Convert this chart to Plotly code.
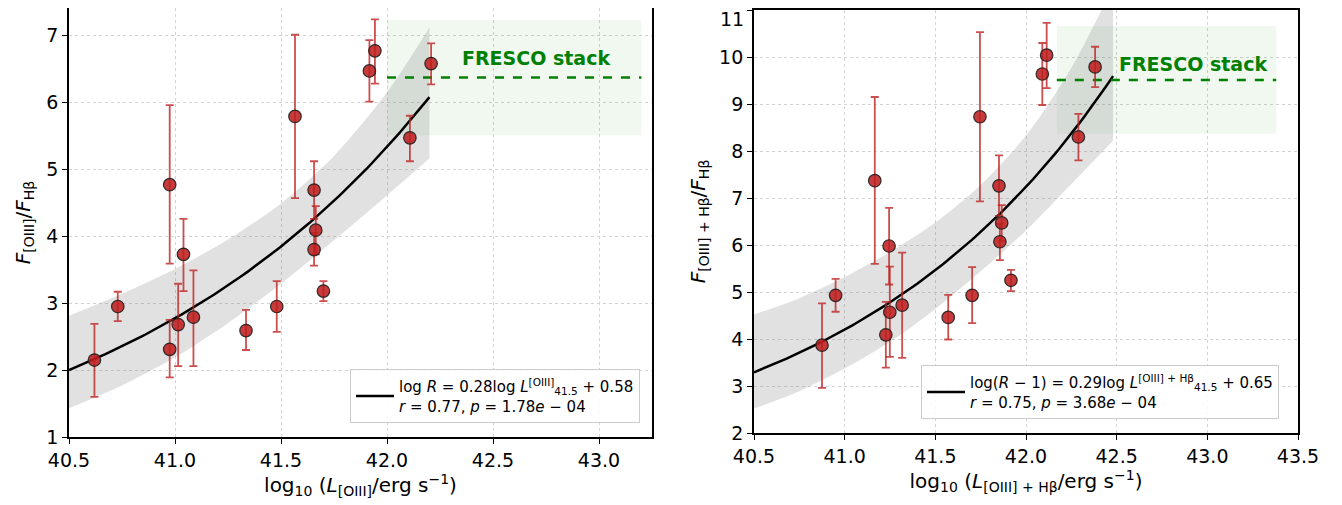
import plotly.graph_objects as go
import numpy as np

# page body has an 8px margin, so the figure is sized to the visible area
OFF = 8
W, H = 1342 - OFF, 505 - OFF
FONT = "DejaVu Sans"


def fx_(px):
    return (px - OFF) / W


def fy_(py):
    return min(1.0, 1 - (py - OFF) / H)


# ---------------- Left panel data: [OIII]/Hbeta vs log L[OIII]
left_x = [40.62, 40.73, 40.975, 40.975, 41.015, 41.04, 41.087, 41.335, 41.48,
          41.566, 41.656, 41.664, 41.656, 41.70, 41.917, 41.943, 42.108, 42.208]
left_y = [2.15, 2.95, 4.77, 2.31, 2.68, 3.73, 2.79, 2.59, 2.95,
          5.79, 4.69, 4.09, 3.80, 3.18, 6.47, 6.77, 5.47, 6.58]
left_hi = [2.69, 3.17, 5.96, 2.75, 3.29, 4.26, 3.49, 2.90, 3.33,
           7.01, 5.12, 4.45, 4.05, 3.33, 6.93, 7.24, 5.80, 6.88]
left_lo = [1.60, 2.73, 3.59, 1.89, 2.06, 3.18, 2.06, 2.30, 2.57,
           4.57, 4.26, 3.73, 3.56, 3.03, 6.01, 6.28, 5.12, 6.27]

left_fit_slope, left_fit_icpt = 0.284, 0.585
left_fit_range = [40.5, 42.2]
left_band_x = [40.5, 40.75, 41.0, 41.25, 41.5, 41.75, 42.0, 42.2]
left_band_hi = [2.81, 3.14, 3.51, 3.95, 4.49, 5.20, 6.15, 7.12]
left_band_lo = [1.43, 1.77, 2.19, 2.70, 3.29, 3.94, 4.61, 5.16]

left_stack = dict(y=6.37, lo=5.51, hi=7.23, x0=42.0, x1=43.2)

# ---------------- Right panel data: ([OIII]+Hbeta)/Hbeta vs log L[OIII]+Hb
right_x = [40.875, 40.95, 41.166, 41.227, 41.245, 41.249, 41.317, 41.571, 41.703,
           41.746, 41.851, 41.866, 41.856, 41.917, 42.09, 42.114, 42.289, 42.381]
right_y = [3.87, 4.93, 7.37, 4.09, 5.98, 4.57, 4.72, 4.46, 4.93,
           8.73, 7.26, 6.47, 6.07, 5.25, 9.64, 10.04, 8.30, 9.79]
right_hi = [4.76, 5.28, 9.15, 4.79, 6.79, 5.54, 5.84, 4.94, 5.53,
            10.53, 7.91, 6.85, 6.45, 5.47, 10.30, 10.73, 8.79, 10.22]
right_lo = [2.96, 4.58, 5.60, 3.39, 5.16, 3.62, 3.60, 3.99, 4.34,
            6.93, 6.62, 6.09, 5.68, 5.02, 8.98, 9.34, 7.80, 9.36]

right_fit_slope, right_fit_icpt = 0.29, 0.65
right_fit_range = [40.5, 42.48]
right_band_x = [40.5, 40.75, 41.0, 41.25, 41.5, 41.75, 42.0, 42.25, 42.48]
right_band_hi = [4.52, 4.87, 5.32, 5.85, 6.48, 7.28, 8.33, 9.77, 11.5]
right_band_lo = [2.52, 2.89, 3.37, 3.94, 4.64, 5.44, 6.31, 7.30, 8.22]

right_stack = dict(y=9.51, lo=8.37, hi=10.66, x0=42.17, x1=43.38)

left_xticks = [40.5, 41.0, 41.5, 42.0, 42.5, 43.0]
right_xticks = [40.5, 41.0, 41.5, 42.0, 42.5, 43.0, 43.5]
left_yticks = [1, 2, 3, 4, 5, 6, 7]
right_yticks = [2, 3, 4, 5, 6, 7, 8, 9, 10, 11]
# the top label ("11") would fall partly above the visible page; it is drawn as an annotation
right_ytext = [str(v) for v in right_yticks[:-1]] + [""]
right_ytop_label = str(right_yticks[-1])

left_label = ("log <i>R</i> = 0.28log <i>L</i><sup>[OIII]</sup><sub>41.5</sub> + 0.58"
              "<br><i>r</i> = 0.77, <i>p</i> = 1.78<i>e</i> − 04")
right_label = ("log(<i>R</i> − 1) = 0.29log <i>L</i><sup>[OIII] + Hβ</sup><sub>41.5</sub> + 0.65"
               "<br><i>r</i> = 0.75, <i>p</i> = 3.68<i>e</i> − 04")

ERR_COLOR = "rgba(190,35,35,0.8)"
MK_COLOR = "rgba(190,30,30,0.87)"
GREEN = "#008000"

fig = go.Figure()


def add_panel(xa, ya, xs, ys, hi, lo, slope, icpt, frange, bx, bhi, blo,
              stack, minus_one, label, legend_id):
    # FRESCO stack shaded region
    fig.add_trace(go.Scatter(
        x=[stack["x0"], stack["x1"], stack["x1"], stack["x0"], stack["x0"]],
        y=[stack["lo"], stack["lo"], stack["hi"], stack["hi"], stack["lo"]],
        fill="toself", fillcolor="rgba(0,128,0,0.06)", line=dict(width=0),
        mode="lines", hoverinfo="skip", showlegend=False, xaxis=xa, yaxis=ya))
    # confidence band (lower edge, then upper edge filled to it)
    fig.add_trace(go.Scatter(
        x=bx, y=blo, mode="lines", line=dict(width=0, shape="spline", smoothing=0.8),
        hoverinfo="skip", showlegend=False, xaxis=xa, yaxis=ya))
    fig.add_trace(go.Scatter(
        x=bx, y=bhi, mode="lines", line=dict(width=0, shape="spline", smoothing=0.8),
        fill="tonexty", fillcolor="rgba(128,128,128,0.24)",
        hoverinfo="skip", showlegend=False, xaxis=xa, yaxis=ya))
    # fit line
    fx = np.linspace(frange[0], frange[1], 100)
    fy = 10 ** (slope * (fx - 41.5) + icpt) + (1 if minus_one else 0)
    fig.add_trace(go.Scatter(
        x=fx, y=fy, mode="lines", line=dict(color="black", width=2.5),
        name=label, showlegend=True, legend=legend_id, xaxis=xa, yaxis=ya))
    # stacked value dashed line
    fig.add_trace(go.Scatter(
        x=[stack["x0"], stack["x1"]], y=[stack["y"], stack["y"]], mode="lines",
        line=dict(color=GREEN, width=2.5, dash="dash"), showlegend=False,
        xaxis=xa, yaxis=ya))
    # data points
    ys_a = np.array(ys)
    fig.add_trace(go.Scatter(
        x=xs, y=ys, mode="markers", showlegend=False, xaxis=xa, yaxis=ya,
        marker=dict(size=12.5, color=MK_COLOR, line=dict(color="rgba(30,30,30,0.9)", width=1.2)),
        error_y=dict(type="data", symmetric=False,
                     array=list(np.array(hi) - ys_a), arrayminus=list(ys_a - np.array(lo)),
                     color=ERR_COLOR, thickness=1.8, width=4)))


add_panel("x", "y", left_x, left_y, left_hi, left_lo, left_fit_slope, left_fit_icpt,
          left_fit_range, left_band_x, left_band_hi, left_band_lo, left_stack, False,
          left_label, "legend")
add_panel("x2", "y2", right_x, right_y, right_hi, right_lo, right_fit_slope, right_fit_icpt,
          right_fit_range, right_band_x, right_band_hi, right_band_lo, right_stack, True,
          right_label, "legend2")

axis_common = dict(
    showline=True, linecolor="black", linewidth=1.8, mirror=True,
    ticks="outside", ticklen=5, tickwidth=1.2, tickcolor="black",
    showgrid=True, gridcolor="#d3d3d3", griddash="dot", gridwidth=1,
    zeroline=False, automargin=False,
    tickfont=dict(size=19, color="black", family=FONT),
)
TITLE_SIZE = 20

fig.update_layout(
    width=W, height=H,
    margin=dict(l=0, r=0, t=0, b=0),
    paper_bgcolor="white", plot_bgcolor="white",
    font=dict(family=FONT, color="black"),
    xaxis=dict(domain=[fx_(69), fx_(652)], range=[40.5, 43.25], tickvals=left_xticks,
               tickformat=".1f", anchor="y",
               title=dict(text="log<sub>10</sub> (<i>L</i><sub>[OIII]</sub>/erg s<sup>−1</sup>)",
                          font=dict(size=TITLE_SIZE), standoff=8), **axis_common),
    # top of the left panel sits 6 px above the visible page, so it is clipped there
    yaxis=dict(domain=[fy_(437), fy_(8)], range=[1, 7.41], tickvals=left_yticks,
               anchor="x",
               title=dict(text="<i>F</i><sub>[OIII]</sub>/<i>F</i><sub>Hβ</sub>",
                          font=dict(size=TITLE_SIZE), standoff=10), **axis_common),
    xaxis2=dict(domain=[fx_(754), fx_(1298)], range=[40.5, 43.5], tickvals=right_xticks,
                tickformat=".1f", anchor="y2",
                title=dict(text="log<sub>10</sub> (<i>L</i><sub>[OIII] + Hβ</sub>/erg s<sup>−1</sup>)",
                           font=dict(size=TITLE_SIZE), standoff=8), **axis_common),
    yaxis2=dict(domain=[fy_(433), fy_(10)], range=[2, 11.002], tickvals=right_yticks,
                ticktext=right_ytext, anchor="x2",
                title=dict(text="<i>F</i><sub>[OIII] + Hβ</sub>/<i>F</i><sub>Hβ</sub>",
                           font=dict(size=TITLE_SIZE), standoff=8), **axis_common),
    legend=dict(x=fx_(350), y=fy_(369), xanchor="left", yanchor="top",
                bgcolor="rgba(255,255,255,0.85)", bordercolor="#cccccc", borderwidth=1,
                font=dict(size=15, family=FONT), itemwidth=38),
    legend2=dict(x=fx_(921), y=fy_(365), xanchor="left", yanchor="top",
                 bgcolor="rgba(255,255,255,0.85)", bordercolor="#cccccc", borderwidth=1,
                 font=dict(size=15, family=FONT), itemwidth=38),
    showlegend=True,
)

fig.add_annotation(x=fx_(746), y=1.0, xref="paper", yref="paper", xanchor="right",
                   yanchor="top", text=right_ytop_label, showarrow=False,
                   font=dict(size=19, color="black", family=FONT), yshift=2)
fig.add_annotation(x=42.705, y=6.67, xref="x", yref="y", text="<b>FRESCO stack</b>",
                   showarrow=False, font=dict(size=19, color=GREEN, family=FONT))
fig.add_annotation(x=42.92, y=9.85, xref="x2", yref="y2", text="<b>FRESCO stack</b>",
                   showarrow=False, font=dict(size=19, color=GREEN, family=FONT))

fig.write_html("out.html")
